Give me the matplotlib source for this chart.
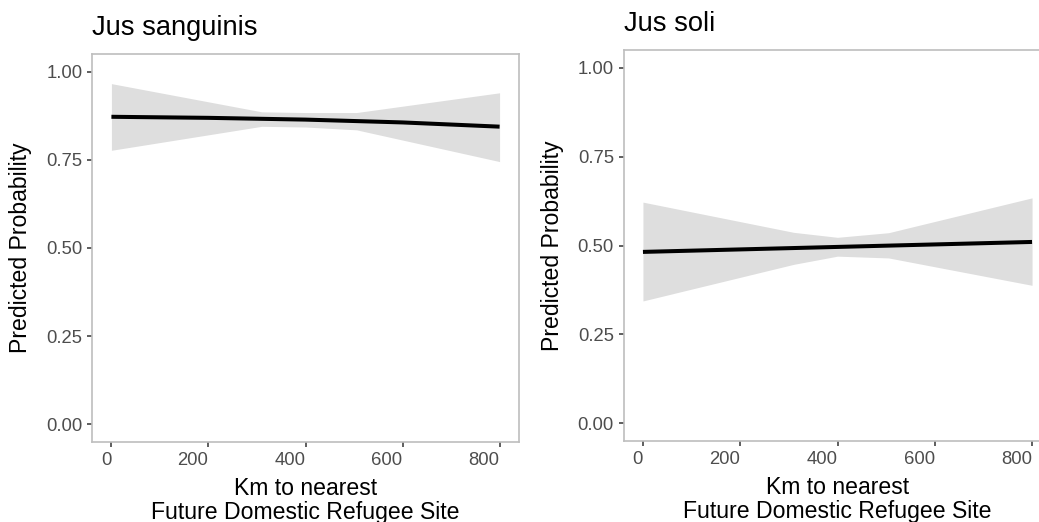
import matplotlib.pyplot as plt

# ============================================
# DATA
# ============================================

panel_titles = ["Jus sanguinis", "Jus soli"]

km_line = [0, 200, 400, 600, 800]
pred_sanguinis = [0.872, 0.869, 0.864, 0.856, 0.844]
pred_soli = [0.482, 0.489, 0.496, 0.503, 0.510]

km_band = [0, 310, 400, 505, 800]
low_sanguinis = [0.777, 0.845, 0.843, 0.835, 0.745]
high_sanguinis = [0.966, 0.886, 0.884, 0.884, 0.940]
low_soli = [0.344, 0.447, 0.470, 0.465, 0.388]
high_soli = [0.622, 0.537, 0.523, 0.536, 0.634]

y_ticks = [0.00, 0.25, 0.50, 0.75, 1.00]
x_ticks = [0, 200, 400, 600, 800]

# ============================================
# FIGURE
# ============================================

plt.rcParams['font.family'] = ['Liberation Sans', 'DejaVu Sans']

fig = plt.figure(figsize=(10.39, 5.22), dpi=100)

ax1 = fig.add_axes([92 / 1039, 80 / 522, 427 / 1039, 388 / 522])
ax2 = fig.add_axes([623.5 / 1039, 81 / 522, 428 / 1039, 391 / 522])

panels = [
    (ax1, panel_titles[0], pred_sanguinis, low_sanguinis, high_sanguinis),
    (ax2, panel_titles[1], pred_soli, low_soli, high_soli),
]

for ax, title, pred, low, high in panels:

    ax.fill_between(km_band, low, high, color='#DEDEDE', lw=0)
    ax.plot(km_line, pred, color='black', lw=2.9, solid_capstyle='butt')

    ax.set_xlim(-40, 840)
    ax.set_ylim(-0.05, 1.05)

    ax.set_xticks(x_ticks)
    ax.set_xticklabels([str(t) for t in x_ticks], ha='right')
    ax.set_yticks(y_ticks)
    ax.set_yticklabels([f"{t:.2f}" for t in y_ticks])

    ax.tick_params(axis='both', length=3.6, width=1.1, color='#333333',
                   labelcolor='#4D4D4D', labelsize=13.3, pad=3.3)

    for spine in ax.spines.values():
        spine.set_color('#BEBEBE')
        spine.set_linewidth(1.2)

    ax.set_ylabel("Predicted Probability", fontsize=16.6, labelpad=10)
    ax.set_xlabel("Km to nearest\nFuture Domestic Refugee Site",
                  fontsize=16.6, labelpad=6, linespacing=1.05)

    ax.set_title(title, loc='left', fontsize=19.6, pad=13.5)

fig.savefig("out.png", dpi=100)
